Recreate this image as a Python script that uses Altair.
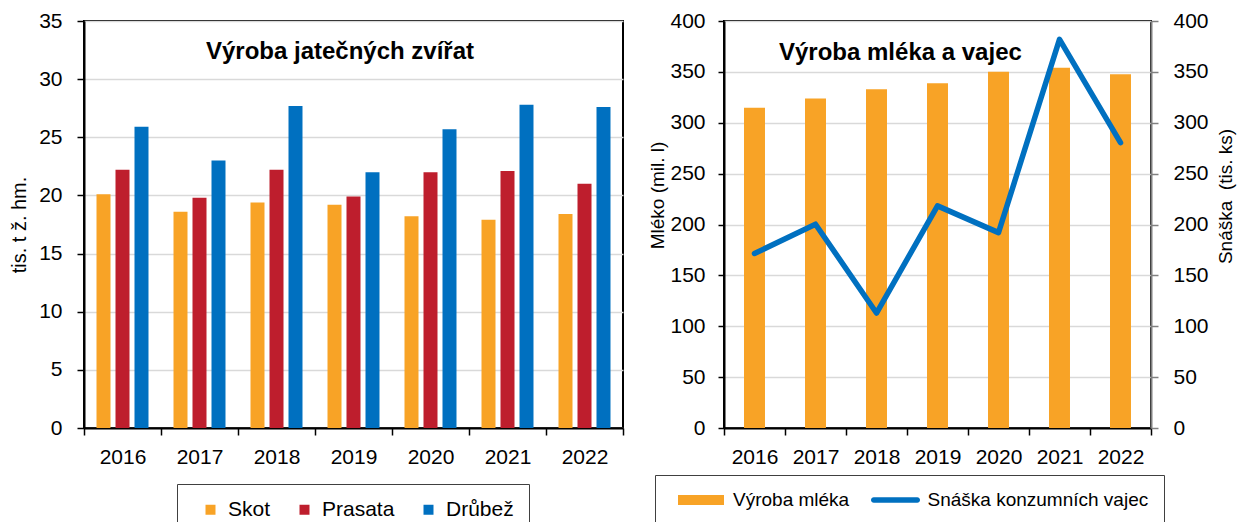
import altair as alt
import pandas as pd

# ---------------- data ----------------
years = ["2016", "2017", "2018", "2019", "2020", "2021", "2022"]
meat_series = ["Skot", "Prasata", "Drůbež"]
skot = [20.1, 18.6, 19.4, 19.2, 18.2, 17.9, 18.4]
prasata = [22.2, 19.8, 22.2, 19.9, 22.0, 22.1, 21.0]
drubez = [25.9, 23.0, 27.7, 22.0, 25.7, 27.8, 27.6]
meat_colors = ["#F8A326", "#BE1E2D", "#0070C0"]

milk_name = "Výroba mléka"
egg_name = "Snáška konzumních vajec"
mleko = [314.7, 323.8, 333.0, 338.8, 350.2, 354.0, 347.7]
snaska = [171.5, 200.3, 113.0, 218.3, 192.0, 382.0, 280.4]
milk_color = "#F8A326"
egg_color = "#0070C0"

left_title = "Výroba jatečných zvířat"
right_title = "Výroba mléka a vajec"
left_ytitle = "tis. t ž. hm."
right_ytitle_l = "Mléko (mil. l)"
right_ytitle_r = "Snáška\u00a0 (tis. ks)"

meat_ticks = [0, 5, 10, 15, 20, 25, 30, 35]
dairy_ticks = [0, 50, 100, 150, 200, 250, 300, 350, 400]

FONT = "Liberation Sans"
GRID = "#D9D9D9"
BOX = "#404040"

# legend glyphs (SVG paths): wide orange block and thick rounded blue line
PATH_MILK = "M-0.2,-0.5H4.4V0.5H-0.2Z"
PATH_EGG = "M-0.075,-0.275H4.275A0.275,0.275 0 0 1 4.275,0.275H-0.075A0.275,0.275 0 0 1 -0.075,-0.275Z"

meat = pd.DataFrame(
    [{"rok": y, "druh": s, "hodnota": v}
     for s, vals in zip(meat_series, [skot, prasata, drubez])
     for y, v in zip(years, vals)]
)
milk = pd.DataFrame({"rok": years, "hodnota": mleko})
eggs = pd.DataFrame({"rok": years, "hodnota": snaska})
legend_df = pd.DataFrame({"rok": years[:2], "serie": [milk_name, egg_name]})


def x_axis():
    return alt.Axis(title=None, labelFontSize=21, labelColor="#000", labelAngle=0,
                    labelPadding=11, tickSize=7, tickColor="#000", tickWidth=1.5,
                    domainColor="#000", domainWidth=2, tickBand="extent", grid=False)


# ---------------- left chart ----------------
bars_l = alt.Chart(meat).mark_bar().encode(
    x=alt.X("rok:N", sort=years,
            scale=alt.Scale(domain=years, paddingInner=0, paddingOuter=0),
            axis=x_axis()),
    xOffset=alt.XOffset("druh:N", sort=meat_series,
                        scale=alt.Scale(domain=meat_series, paddingInner=0.263,
                                        paddingOuter=0.658)),
    y=alt.Y("hodnota:Q", scale=alt.Scale(domain=[0, 35], nice=False),
            axis=alt.Axis(values=meat_ticks, title=left_ytitle, titleFontSize=20,
                          titleFontWeight="normal", titleColor="#000", titlePadding=9,
                          labelFontSize=21, labelColor="#000", labelPadding=15,
                          tickSize=7, tickColor="#000", tickWidth=1.5,
                          domainColor="#000", domainWidth=2,
                          grid=True, gridColor=GRID, gridWidth=1.5)),
    color=alt.Color("druh:N", sort=meat_series,
                    scale=alt.Scale(domain=meat_series, range=meat_colors),
                    legend=alt.Legend(title="x", titleOrient="left", titleFontSize=14,
                                      titleOpacity=0, titlePadding=0,
                                      orient="none", legendX=93, legendY=463,
                                      direction="horizontal", symbolType="square",
                                      symbolSize=100, symbolStrokeWidth=0,
                                      labelFontSize=21, labelColor="#000", labelOffset=7,
                                      columnPadding=23, padding=15, labelLimit=400,
                                      strokeColor=BOX)),
)

title_l = alt.Chart(pd.DataFrame({"t": [left_title]})).mark_text(
    font=FONT, fontSize=24, fontWeight="bold", color="#000", align="center", baseline="middle"
).encode(x=alt.value(256), y=alt.value(31), text="t:N")

left = alt.layer(bars_l, title_l).properties(width=539, height=407)

# ---------------- right chart ----------------
x_r = alt.X("rok:N", sort=years,
            scale=alt.Scale(domain=years, paddingInner=0, paddingOuter=0),
            axis=x_axis())

bars_r = alt.Chart(milk).mark_bar(color=milk_color, width=alt.RelativeBandSize(0.344)).encode(
    x=x_r,
    y=alt.Y("hodnota:Q", scale=alt.Scale(domain=[0, 400], nice=False),
            axis=alt.Axis(orient="left", values=dairy_ticks, title=right_ytitle_l,
                          titleFontSize=19, titleFontWeight="normal", titleColor="#000",
                          titlePadding=2, titleY=174,
                          labelFontSize=21, labelColor="#000", labelPadding=13,
                          tickSize=6, tickColor="#000", tickWidth=1.5,
                          domainColor="#000", domainWidth=2,
                          grid=True, gridColor=GRID, gridWidth=1.5)),
)

line_r = alt.Chart(eggs).mark_line(color=egg_color, strokeWidth=5.5, strokeJoin="round",
                                   strokeCap="round").encode(
    x=x_r,
    y=alt.Y("hodnota:Q", scale=alt.Scale(domain=[0, 400], nice=False),
            axis=alt.Axis(orient="right", values=dairy_ticks, title=right_ytitle_r,
                          titleFontSize=19, titleFontWeight="normal", titleColor="#000",
                          titleAngle=-90, titleBaseline="top", titlePadding=8, titleY=175,
                          labelFontSize=21, labelColor="#000", labelPadding=15,
                          tickSize=7, tickColor="#808080", tickWidth=1.5,
                          domainColor="#808080", domainWidth=2, grid=False)),
)


def legend_r():
    return alt.Legend(title=None,
                      orient="none", legendX=-69, legendY=454, direction="horizontal",
                      symbolSize=400, symbolStrokeWidth=0, symbolOpacity=1,
                      labelFontSize=19, labelColor="#000", labelOffset=43,
                      columnPadding=14.5, labelLimit=500, padding=15, strokeColor=BOX)


legend_layer = alt.Chart(legend_df).transform_filter("false").mark_point(
    filled=True, opacity=1).encode(
    x=x_r,
    color=alt.Color("serie:N", scale=alt.Scale(domain=[milk_name, egg_name],
                                               range=[milk_color, egg_color]),
                    legend=legend_r()),
    shape=alt.Shape("serie:N", scale=alt.Scale(domain=[milk_name, egg_name],
                                               range=[PATH_MILK, PATH_EGG]),
                    legend=legend_r()),
)

title_r = alt.Chart(pd.DataFrame({"t": [right_title]})).mark_text(
    font=FONT, fontSize=24, fontWeight="bold", color="#000", align="left", baseline="middle"
).encode(x=alt.value(55), y=alt.value(32), text="t:N")

right = alt.layer(bars_r, line_r, legend_layer, title_r).resolve_scale(
    y="independent").properties(width=427, height=407)

chart = alt.hconcat(left, right, spacing=22).resolve_scale(
    color="independent", shape="independent").resolve_legend(
    color="independent", shape="independent").configure(
    font=FONT, padding={"left": 0, "top": 1, "right": 0, "bottom": 0}
).configure_view(stroke="#000", strokeWidth=2)

chart.save("out.html", embed_options={"renderer": "svg", "actions": False})
